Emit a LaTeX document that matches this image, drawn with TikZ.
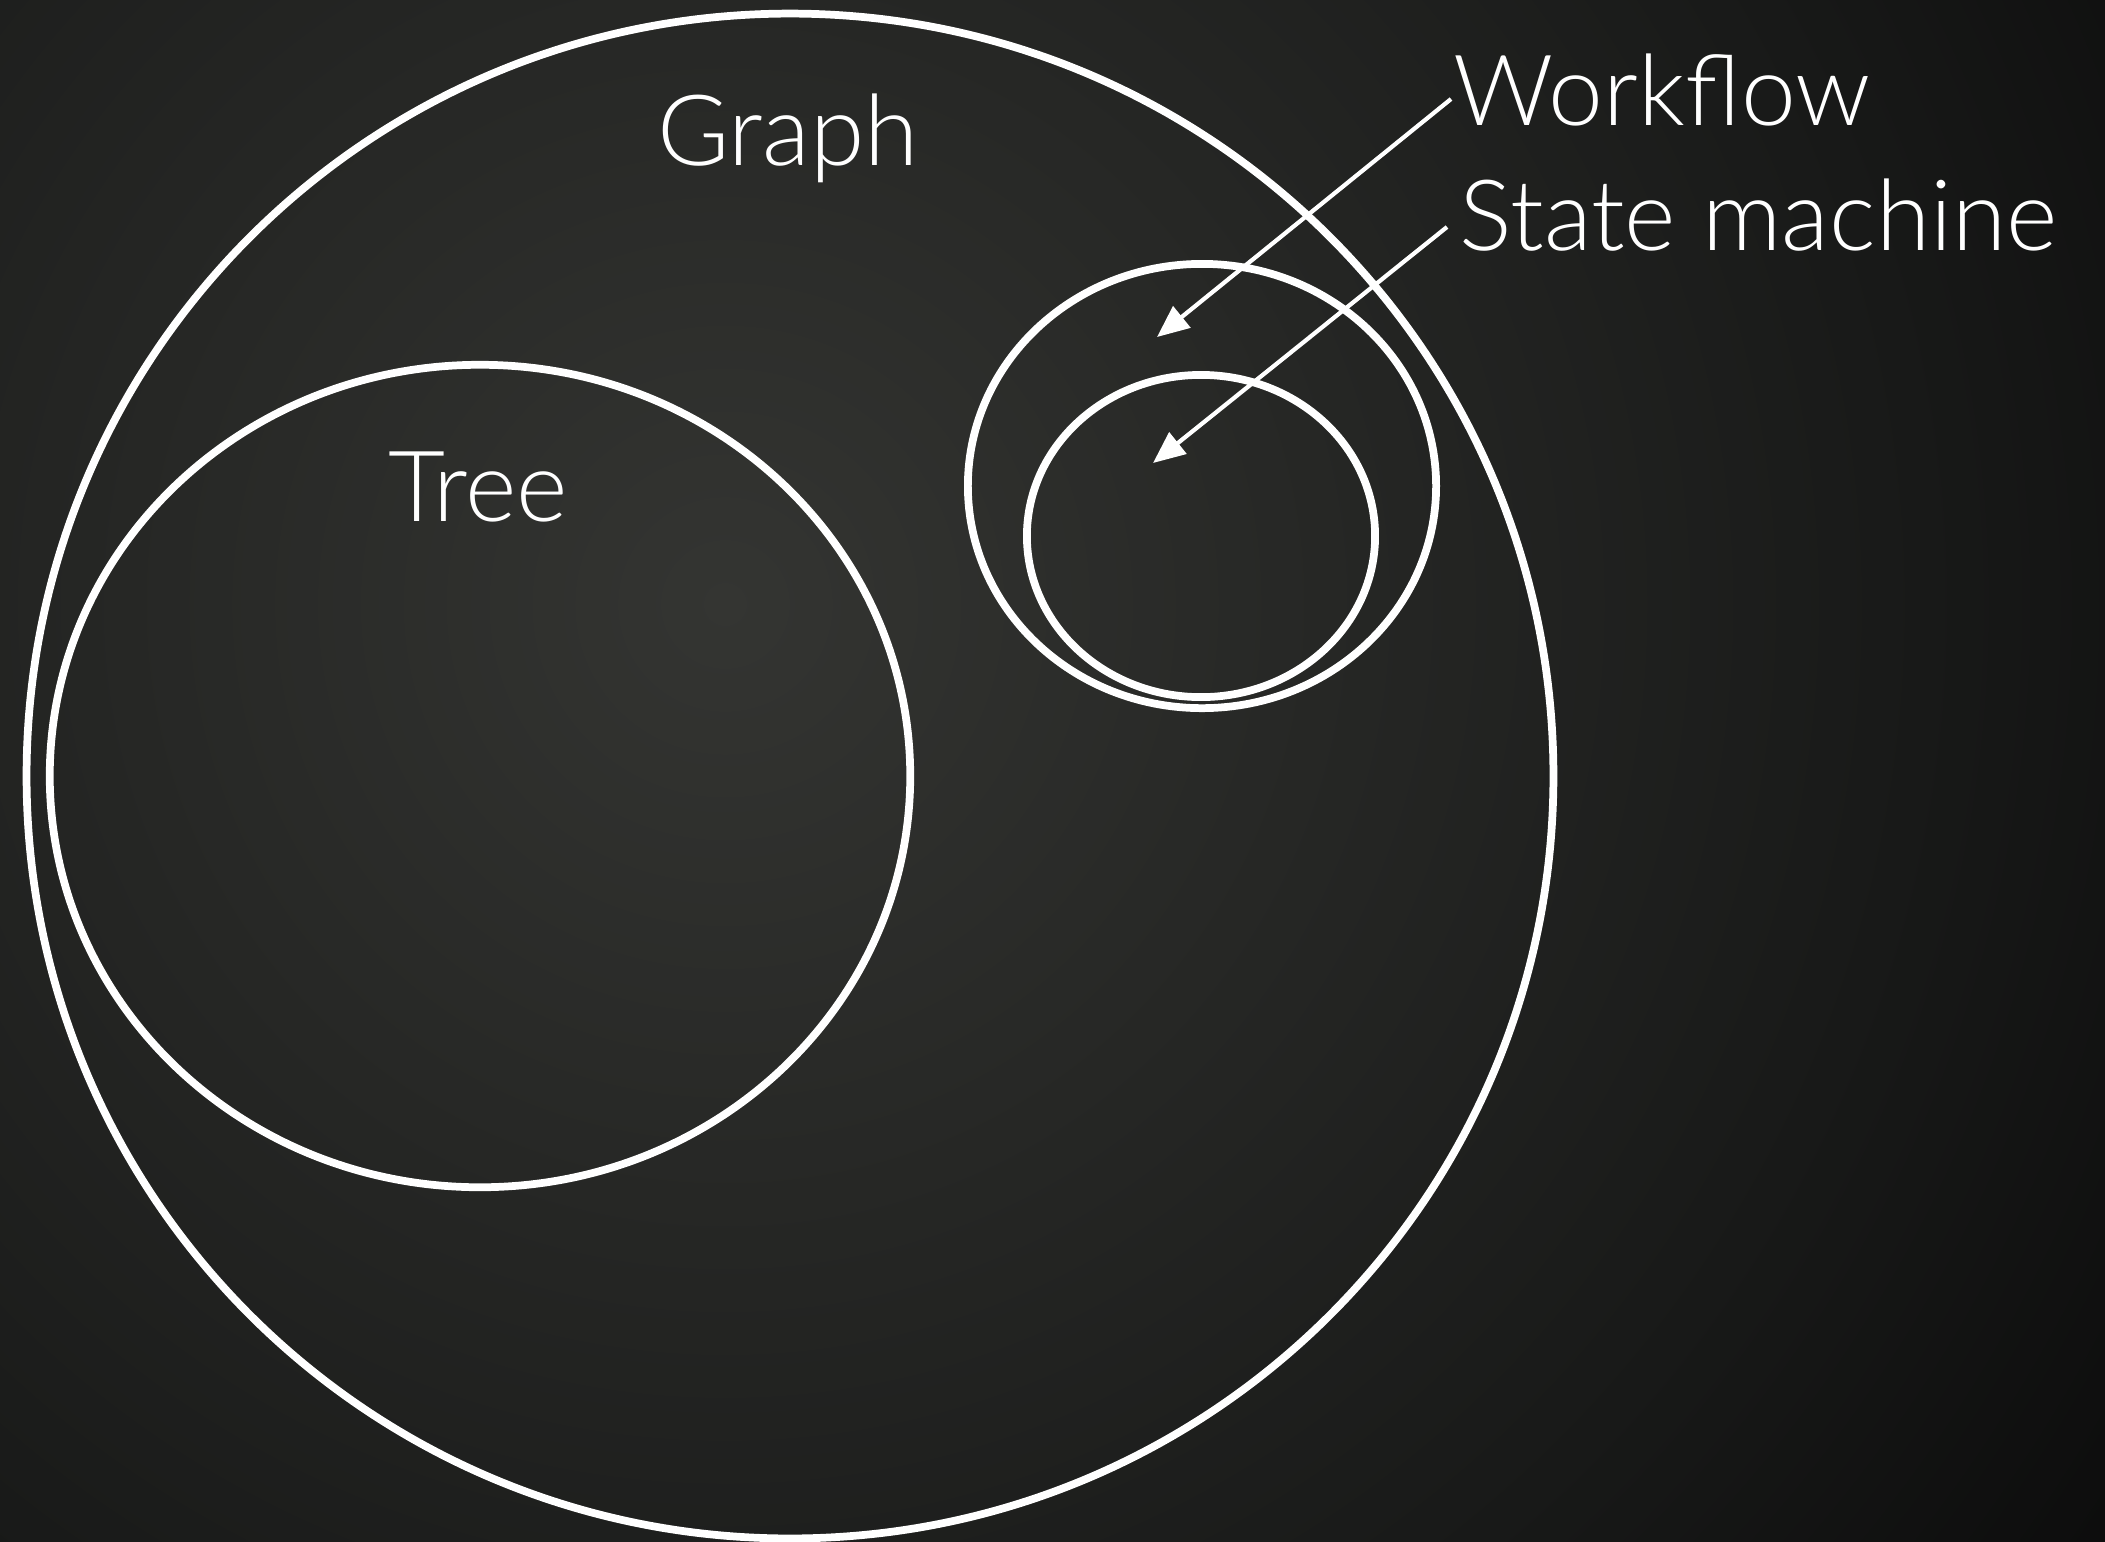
\documentclass[tikz,border=0pt]{standalone}
\usepackage{fontspec}
\setmainfont{Lato Light}
\usetikzlibrary{arrows.meta}
\definecolor{bgin}{HTML}{343532}
\definecolor{bgmid}{HTML}{262725}
\definecolor{bgdark}{HTML}{181918}
\definecolor{bgout}{HTML}{0C0C0C}
\pgfdeclareradialshading{bgglow}{\pgfpoint{0cm}{0cm}}{color(0cm)=(bgin); color(6cm)=(bgmid); color(12cm)=(bgdark); color(17cm)=(bgout)}
\begin{document}
\begin{tikzpicture}[x=0.01cm,y=-0.01cm,
  ring/.style={draw=white,line width=2.2pt},
  label/.style={text=white,inner sep=0pt,font=\fontsize{28}{30}\selectfont}]
  \useasboundingbox (0,0) rectangle (2105,1541);
  \begin{scope}
    \clip (0,0) rectangle (2105,1541);
    \node[inner sep=0pt] at (725,604) {\pgfuseshading{bgglow}};
  \end{scope}
  \foreach \cx / \cy / \rx / \ry in {790/776/7.63/7.62, 480/776/4.30/4.11, 1202/486/2.34/2.22, 1201/536/1.74/1.61}
     \draw[ring] (\cx,\cy) ellipse [x radius=\rx cm, y radius=\ry cm];
  \node[label,anchor=base] (graph) at (788,165) {Graph};
  \node[label,anchor=base] (tree) at (478,521) {Tree};
  \node[label,anchor=base west] (workflow) at (1453,125) {Workflow};
  \node[label,anchor=base west] (statemachine) at (1459,250) {State machine};
  \coordinate (wf) at (1451,99);
  \coordinate (wftip) at (1157,337);
  \coordinate (sm) at (1447,227);
  \coordinate (smtip) at (1153,463);
  \draw[white,line width=1.2pt,-{Triangle[length=0.32cm,width=0.27cm]}] (wf) -- (wftip);
  \draw[white,line width=1.2pt,-{Triangle[length=0.32cm,width=0.27cm]}] (sm) -- (smtip);
\end{tikzpicture}
\end{document}
